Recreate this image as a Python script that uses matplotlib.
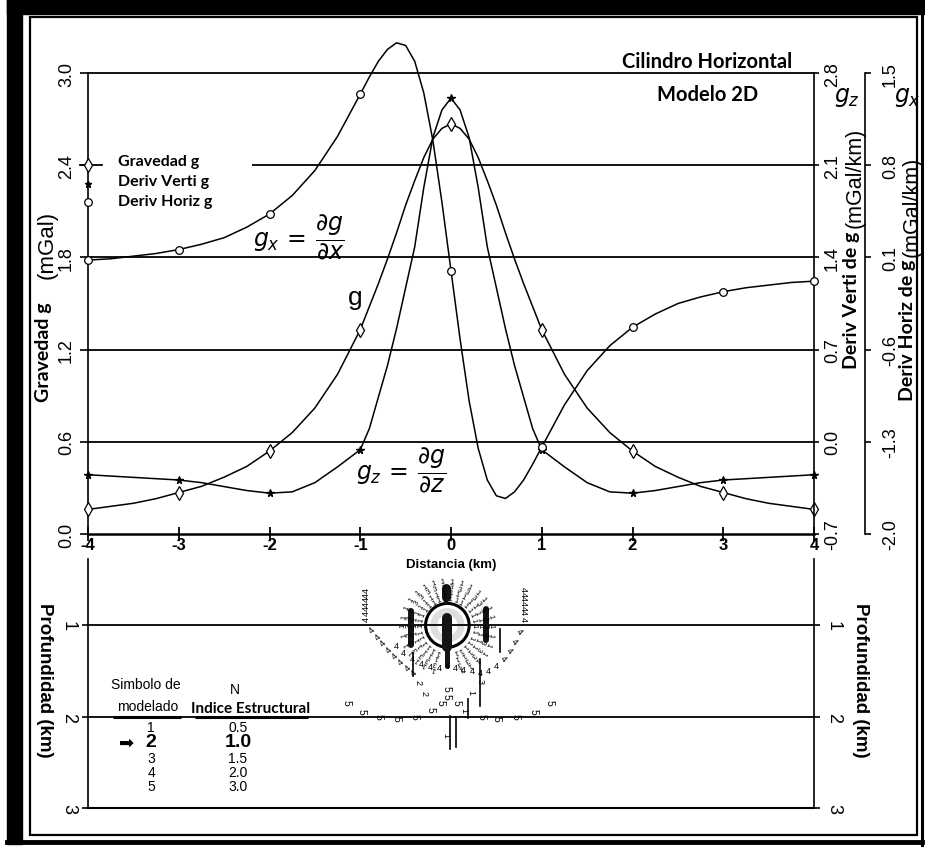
import numpy as np
import matplotlib.pyplot as plt
from matplotlib.patches import Circle, Rectangle

plt.rcParams['axes.unicode_minus'] = False
plt.rcParams['mathtext.fontset'] = 'dejavusans'

W, H = 925, 854
PT = 0.72  # points per pixel at 100 dpi

ARIAL = ['Liberation Sans', 'DejaVu Sans']
NARROW = ['Liberation Sans Narrow', 'Liberation Sans', 'DejaVu Sans']
CALIB = ['Lato', 'DejaVu Sans']

# profile across the horizontal cylinder (km)
dist = [-4.0, -3.75, -3.5, -3.25, -3.0, -2.75, -2.5, -2.25, -2.0, -1.75, -1.5, -1.25, -1.0,
        -0.9, -0.8, -0.7, -0.6, -0.5, -0.4, -0.3, -0.2, -0.1, 0.0,
        0.1, 0.2, 0.3, 0.4, 0.5, 0.6, 0.7, 0.8, 0.9,
        1.0, 1.25, 1.5, 1.75, 2.0, 2.25, 2.5, 2.75, 3.0, 3.25, 3.5, 3.75, 4.0]
# gravity g (mGal)
grav = [0.16, 0.18, 0.20, 0.23, 0.27, 0.31, 0.37, 0.44, 0.54, 0.66, 0.82, 1.04, 1.33,
        1.48, 1.63, 1.79, 1.96, 2.14, 2.30, 2.45, 2.57, 2.64, 2.67,
        2.64, 2.57, 2.45, 2.30, 2.14, 1.96, 1.79, 1.63, 1.48,
        1.33, 1.04, 0.82, 0.66, 0.54, 0.44, 0.37, 0.31, 0.27, 0.23, 0.20, 0.18, 0.16]
# vertical derivative gz (mGal/km)
dgdz = [-0.25, -0.26, -0.27, -0.28, -0.29, -0.31, -0.34, -0.37, -0.39, -0.38, -0.31, -0.19, -0.06,
        0.10, 0.34, 0.58, 0.86, 1.17, 1.48, 1.93, 2.31, 2.52, 2.61,
        2.52, 2.31, 1.93, 1.48, 1.17, 0.86, 0.58, 0.34, 0.10,
        -0.06, -0.19, -0.31, -0.38, -0.39, -0.37, -0.34, -0.31, -0.29, -0.28, -0.27, -0.26, -0.25]
# horizontal derivative gx (mGal/km)
dgdx = [0.08, 0.09, 0.11, 0.13, 0.16, 0.20, 0.25, 0.33, 0.43, 0.57, 0.76, 1.02, 1.34,
        1.47, 1.59, 1.68, 1.73, 1.71, 1.59, 1.35, 0.99, 0.52, 0.00,
        -0.52, -0.99, -1.35, -1.59, -1.71, -1.73, -1.68, -1.59, -1.47,
        -1.34, -1.02, -0.76, -0.57, -0.43, -0.33, -0.25, -0.20, -0.16, -0.13, -0.11, -0.09, -0.08]
stations = [-4, -3, -2, -1, 0, 1, 2, 3, 4]

ticks_g = [0.0, 0.6, 1.2, 1.8, 2.4, 3.0]
ticks_gz = [-0.7, 0.0, 0.7, 1.4, 2.1, 2.8]
ticks_gx = [-2.0, -1.3, -0.6, 0.1, 0.8, 1.5]
ticks_depth = [1, 2, 3]

# Euler solutions around the cylinder (x km, depth km)
ring_cx, ring_cz = -0.04, 1.0
ring_r = [0.29, 0.355, 0.42, 0.485]
ring_ang = [0, 12, 24, 36, 48, 60, 72, 84, 96, 108, 120, 132, 144, 156, 168, 180,
            192, 204, 216, 228, 240, 252, 288, 300, 312, 324, 336, 348]
ring_sym = ['1', '1', '3', '1']

four_x = [-0.93, -0.93, -0.93, -0.93, -0.93, -0.93, -0.93,
          -0.87, -0.81, -0.75, -0.69, -0.62, -0.55, -0.48, -0.41,
          -0.60, -0.52, -0.43, -0.33, -0.23, -0.13, -0.04, 0.05, 0.14, 0.23, 0.32, 0.41, 0.50,
          0.58, 0.64, 0.70, 0.75,
          0.80, 0.80, 0.80, 0.80, 0.80, 0.80, 0.80]
four_z = [0.61, 0.66, 0.71, 0.76, 0.81, 0.86, 0.92,
          1.04, 1.12, 1.19, 1.26, 1.33, 1.40, 1.46, 1.52,
          1.22, 1.30, 1.36, 1.42, 1.45, 1.46, 1.44, 1.46, 1.48, 1.50, 1.52, 1.49, 1.44,
          1.36, 1.27, 1.17, 1.06,
          0.60, 0.65, 0.70, 0.75, 0.80, 0.85, 0.92]
four_rot = [90] * 7 + [45] * 8 + [0] * 13 + [-45] * 4 + [-90] * 7
five_x = [-1.15, -0.98, -0.80, -0.60, -0.40, -0.23, -0.12, -0.05, -0.05, 0.06, 0.34,
          0.50, 0.71, 0.91, 1.09]
five_z = [1.84, 1.94, 1.99, 2.01, 1.99, 1.92, 1.84, 1.69, 1.77, 1.84, 1.99, 2.01, 1.99,
          1.94, 1.84]
misc_x = [-0.30, 0.22, 0.14, -0.06, 0.32, -0.36]
misc_z = [1.74, 1.72, 1.92, 2.19, 1.60, 1.62]
misc_s = ['2', '1', '1', '1', '3', '2']

# overprinted symbol clusters: x, top depth, bottom depth, width (px)
blob_x = [-0.04, -0.04, -0.05, -0.44, 0.39, -0.05]
blob_z0 = [0.92, 1.24, 0.59, 0.84, 0.82, 0.68]
blob_z1 = [1.24, 1.45, 0.69, 1.22, 1.16, 0.76]
blob_w = [10, 5, 9, 6, 6, 3]
# vertical solution bars
bar_x = [0.32, 0.19, -0.01, 0.06, 0.54, -0.42]
bar_z0 = [1.37, 1.81, 1.99, 2.00, 1.04, 1.30]
bar_z1 = [1.88, 2.01, 2.35, 2.33, 1.29, 1.55]

table_sym = ['1', '2', '3', '4', '5']
table_n = ['0.5', '1.0', '1.5', '2.0', '3.0']

fig = plt.figure(figsize=(W / 100, H / 100), dpi=100)

# upper panel: gravity and derivatives
top_px, zero_px = 28, 535
ax = fig.add_axes([88 / W, 1 - zero_px / H, 726 / W, (zero_px - top_px) / H])
ax.set_xlim(-4, 4)
ax.set_ylim(0, 3.3)
ax.patch.set_visible(False)
for s in ['top', 'right']:
    ax.spines[s].set_visible(False)
ax.spines['left'].set_bounds(0, 3.0)
ax.spines['left'].set_linewidth(1.2)
ax.spines['bottom'].set_linewidth(1.8)
ax.set_yticks(ticks_g)
ax.set_yticklabels(['%.1f' % v for v in ticks_g], rotation=90, va='center',
                   fontsize=13, family=ARIAL)
ax.tick_params(axis='y', direction='out', length=8 * PT, width=1.2, pad=5 * PT)
ax.set_xticks(stations)
ax.set_xticklabels([str(v) for v in stations], fontsize=12, fontweight='bold', family=NARROW)
ax.tick_params(axis='x', direction='inout', length=14 * PT, width=1.3, pad=-4 * PT)

ax.hlines([0.6, 1.2, 1.8, 3.0], -4, 4, color='black', lw=1.3)
ax.hlines(2.4, -2.19, 4, color='black', lw=1.3)

gz_lim = ((0 - 0.6) * 7 / 6, (3.3 - 0.6) * 7 / 6)
gx_lim = (-2.0, 3.3 * 7 / 6 - 2.0)

axz = ax.twinx()
axz.set_ylim(*gz_lim)
axx = ax.twinx()
axx.set_ylim(*gx_lim)
for a in (axz, axx):
    for s in ['top', 'left', 'bottom']:
        a.spines[s].set_visible(False)
    a.spines['right'].set_linewidth(1.2)
axz.spines['right'].set_bounds(-0.7, 2.8)
axx.spines['right'].set_bounds(-2.0, 1.5)
axx.spines['right'].set_position(('outward', 51 * PT))
axz.set_yticks(ticks_gz)
axz.set_yticklabels(['%.1f' % v for v in ticks_gz], rotation=90, va='center',
                    fontsize=13, family=ARIAL)
axz.tick_params(axis='y', direction='out', length=5 * PT, width=1.2, pad=5 * PT)
axx.set_yticks(ticks_gx)
axx.set_yticklabels(['%.1f' % v for v in ticks_gx], rotation=90, va='center',
                    fontsize=13, family=ARIAL)
axx.tick_params(axis='y', direction='out', length=6 * PT, width=1.2, pad=11 * PT)

idx = [dist.index(float(s)) for s in stations]
st_x = [dist[i] for i in idx]

ax.plot(dist, grav, color='black', lw=1.1, clip_on=False)
ax.plot(st_x, [grav[i] for i in idx], ls='none', marker='d', ms=7, mfc='white',
        mec='black', mew=0.9, clip_on=False, zorder=5)
axz.plot(dist, dgdz, color='black', lw=1.1, clip_on=False)
axz.plot(st_x, [dgdz[i] for i in idx], ls='none', marker='*', ms=5.5, color='black',
         clip_on=False, zorder=5)
axx.plot(dist, dgdx, color='black', lw=1.1, clip_on=False)
axx.plot(st_x, [dgdx[i] for i in idx], ls='none', marker='o', ms=5.5, mfc='white',
         mec='black', mew=0.9, clip_on=False, zorder=5)

# legend symbols sitting on the left axis
ax.plot([-4.09, -3.85], [2.4, 2.4], color='black', lw=1.3, clip_on=False)
ax.plot([-4], [2.4], ls='none', marker='d', ms=7, mfc='white', mec='black', mew=0.9,
        clip_on=False, zorder=6)
ax.plot([-4], [2.28], ls='none', marker='*', ms=5, color='black', clip_on=False, zorder=6)
ax.plot([-4], [2.16], ls='none', marker='o', ms=5.5, mfc='white', mec='black', mew=0.9,
        clip_on=False, zorder=6)

# lower panel: Euler deconvolution solutions
ax2 = fig.add_axes([88 / W, 1 - 809 / H, 726 / W, (809 - zero_px) / H])
ax2.set_xlim(-4, 4)
ax2.set_ylim(3, 0)
ax2.patch.set_visible(False)
ax2.spines['top'].set_visible(False)
for s in ['left', 'right']:
    ax2.spines[s].set_bounds(0.27, 3)
    ax2.spines[s].set_linewidth(1.2)
ax2.spines['bottom'].set_linewidth(1.5)
ax2.set_xticks([])
ax2.set_yticks(ticks_depth)
ax2.set_yticklabels([str(v) for v in ticks_depth], va='center', fontsize=13, family=ARIAL)
ax2.tick_params(axis='y', direction='out', length=6 * PT, width=1.2, pad=5 * PT,
                left=True, right=True, labelleft=True, labelright=True)
for lab in ax2.get_yticklabels(which='both'):
    lab.set_rotation(-90)
ax2.hlines([1, 2], -4, 4, color='black', lw=1.3)
ax2.hlines(2, -3.73, -2.98, color='black', lw=2.2)
ax2.hlines(2, -2.82, -1.58, color='black', lw=2.2)

ax2.add_patch(Circle((ring_cx, ring_cz), 0.15, facecolor='none', edgecolor='#dedede', lw=5))
ax2.add_patch(Circle((ring_cx, ring_cz), 0.24, facecolor='none', edgecolor='black', lw=2.2))
for r, sym in zip(ring_r, ring_sym):
    for a in ring_ang:
        t = np.deg2rad(a)
        ax2.text(ring_cx + r * np.cos(t), ring_cz - r * np.sin(t), sym, fontsize=5.5,
                 ha='center', va='center', rotation=a - 90, family=ARIAL)
for x, z, rot in zip(four_x, four_z, four_rot):
    ax2.text(x, z, '4', fontsize=6.5, ha='center', va='center', family=ARIAL, rotation=rot)
for x, z in zip(five_x, five_z):
    ax2.text(x, z, '5', fontsize=7.5, ha='center', va='center', family=ARIAL, rotation=-90)
for x, z, s in zip(misc_x, misc_z, misc_s):
    ax2.text(x, z, s, fontsize=6.5, ha='center', va='center', family=ARIAL, rotation=-90)
for x, z0, z1, w in zip(blob_x, blob_z0, blob_z1, blob_w):
    ax2.plot([x, x], [z0, z1], color='#141414', lw=w * PT, solid_capstyle='round')
for x, z0, z1 in zip(bar_x, bar_z0, bar_z1):
    ax2.plot([x, x], [z0, z1], color='black', lw=1.2)

# overlay in pixel units for the labels and frame
ov = fig.add_axes([0, 0, 1, 1])
ov.set_xlim(0, W)
ov.set_ylim(H, 0)
ov.axis('off')
ov.patch.set_visible(False)

ov.add_patch(Rectangle((7, 0), 15, 845, color='black'))
ov.add_patch(Rectangle((7, 0), 918, 15, color='black'))
ov.add_patch(Rectangle((30, 18), 887, 818, fill=False, ec='black', lw=1.6))
ov.plot([922, 922], [0, 846], color='black', lw=2.2)
ov.plot([7, 922], [843, 843], color='black', lw=3.5)

ov.text(622, 62, 'Cilindro Horizontal', fontsize=14.5, fontweight='bold', family=CALIB,
        ha='left', va='center')
ov.text(657, 95, 'Modelo 2D', fontsize=14.5, fontweight='bold', family=CALIB,
        ha='left', va='center')
ov.text(847, 97, r'$g_z$', fontsize=17, ha='center', va='center')
ov.text(907, 97, r'$g_x$', fontsize=17, ha='center', va='center')

ov.text(118, 162, 'Gravedad g', fontsize=11.5, fontweight='bold', family=CALIB, va='center')
ov.text(118, 182, 'Deriv Verti g', fontsize=11.5, fontweight='bold', family=CALIB, va='center')
ov.text(118, 202, 'Deriv Horiz g', fontsize=11.5, fontweight='bold', family=CALIB, va='center')

ov.text(44, 352, 'Gravedad g', fontsize=14, fontweight='bold', family=CALIB,
        rotation=90, ha='center', va='center')
ov.text(47, 245, '(mGal)', fontsize=16, family=ARIAL, rotation=90, ha='center', va='center')
ov.text(852, 300, 'Deriv Verti de g', fontsize=14, fontweight='bold', family=CALIB,
        rotation=90, ha='center', va='center')
ov.text(855, 178, '(mGal/km)', fontsize=15.5, family=ARIAL, rotation=90, ha='center',
        va='center')
ov.text(907, 330, 'Deriv Horiz de g', fontsize=14, fontweight='bold', family=CALIB,
        rotation=90, ha='center', va='center')
ov.text(912, 207, '(mGal/km)', fontsize=15.5, family=ARIAL, rotation=90, ha='center',
        va='center')

ov.text(355, 298, 'g', fontsize=19, family=ARIAL, ha='center', va='center')
ov.text(299, 238, r'$g_x\,=\,\dfrac{\partial g}{\partial x}$', fontsize=17,
        ha='center', va='center')
ov.text(401, 471, r'$g_z\,=\,\dfrac{\partial g}{\partial z}$', fontsize=17,
        ha='center', va='center')
ov.text(451, 565, 'Distancia (km)', fontsize=9.5, fontweight='bold', family=NARROW,
        ha='center', va='center')

ov.text(44, 680, 'Profundidad (km)', fontsize=13.5, fontweight='bold', family=ARIAL,
        rotation=-90, ha='center', va='center')
ov.text(861, 680, 'Profundidad (km)', fontsize=13.5, fontweight='bold', family=ARIAL,
        rotation=-90, ha='center', va='center')

# structural index table
ov.text(146, 685, 'Simbolo de', fontsize=10, family=NARROW, ha='center', va='center')
ov.text(148, 707, 'modelado', fontsize=10, family=NARROW, ha='center', va='center')
ov.text(235, 690, 'N', fontsize=10, family=NARROW, ha='center', va='center')
ov.text(251, 709, 'Indice Estructural', fontsize=11, fontweight='bold', family=CALIB,
        ha='center', va='center')
rows_y = [728, 743, 759, 773, 787]
for y, s, n in zip(rows_y, table_sym, table_n):
    big = s == '2'
    ov.text(151, y, s, fontsize=14 if big else 10, fontweight='bold' if big else 'normal',
            family=ARIAL, ha='center', va='center')
    ov.text(238, y, n, fontsize=14 if big else 10, fontweight='bold' if big else 'normal',
            family=ARIAL, ha='center', va='center')
ov.text(127, 743, '\u27a1', fontsize=13, family=['DejaVu Sans'], ha='center', va='center')

fig.savefig('out.png', dpi=100)
